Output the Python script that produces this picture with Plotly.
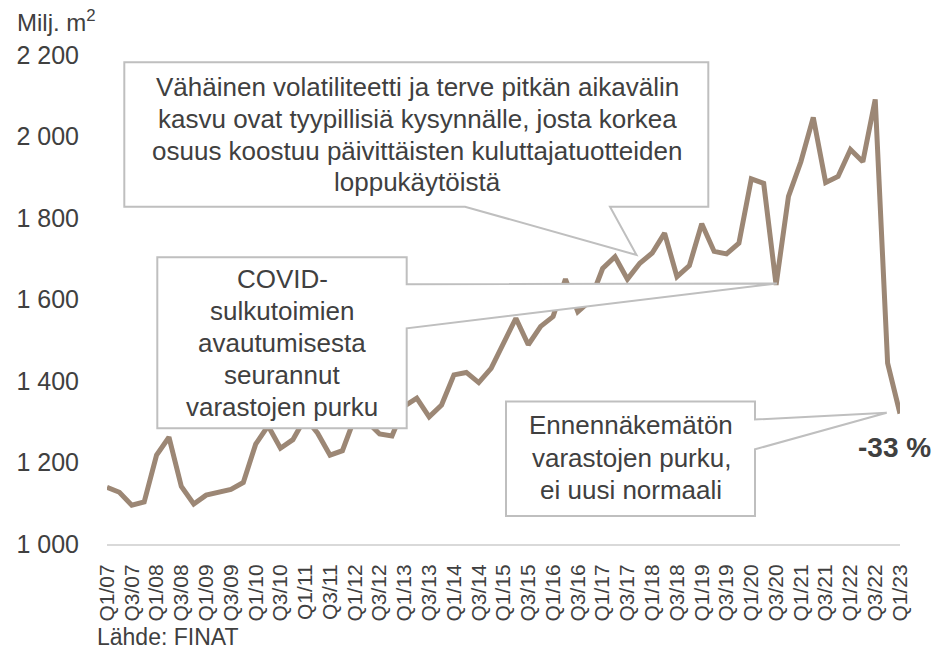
import plotly.graph_objects as go

# ---------------- data ----------------
years = [f"{y:02d}" for y in range(7, 24)]
quarters = [f"Q{q}/{y}" for y in years for q in (1, 2, 3, 4)][:65]

values = [
    1139, 1127, 1095, 1103,   # 2007
    1218, 1262, 1141, 1098,   # 2008
    1120, 1127, 1134, 1151,   # 2009
    1245, 1290, 1235, 1256,   # 2010
    1310, 1272, 1218, 1229,   # 2011
    1310, 1300, 1270, 1265,   # 2012
    1338, 1358, 1312, 1341,   # 2013
    1415, 1421, 1396, 1431,   # 2014
    1492, 1554, 1489, 1534,   # 2015
    1558, 1650, 1570, 1597,   # 2016
    1676, 1705, 1650, 1689,   # 2017
    1714, 1763, 1656, 1683,   # 2018
    1786, 1718, 1712, 1738,   # 2019
    1896, 1885, 1636, 1853,   # 2020
    1938, 2047, 1887, 1902,   # 2021
    1968, 1938, 2091, 1444,   # 2022
    1320,                     # 2023
]

y_tickvals = [1000, 1200, 1400, 1600, 1800, 2000, 2200]
y_ticktext = ["1 000", "1 200", "1 400", "1 600", "1 800", "2 000", "2 200"]
x_tickvals = quarters[::2]

callout1_lines = [
    "Vähäinen volatiliteetti ja terve pitkän aikavälin",
    "kasvu ovat tyypillisiä kysynnälle, josta korkea",
    "osuus koostuu päivittäisten kuluttajatuotteiden",
    "loppukäytöistä",
]
callout2_lines = ["COVID-", "sulkutoimien", "avautumisesta", "seurannut", "varastojen purku"]
callout3_lines = ["Ennennäkemätön", "varastojen purku,", "ei uusi normaali"]
change_label = "-33 %"
unit_label = "Milj. m<sup>2</sup>"
source_label = "Lähde: FINAT"

# ---------------- layout helpers ----------------
W, H = 938, 649
L, R, T, B = 107, 900, 55, 544
FONT = "Liberation Sans, Arial, sans-serif"
TXT = "#404040"
LINE = "#9C8775"
BOX = "#BFBFBF"


def px(x):
    return (x - L) / (R - L)


def py(y):
    return (B - y) / (B - T)


def path(points):
    s = "M " + " L ".join(f"{px(a):.5f},{py(b):.5f}" for a, b in points) + " Z"
    return s


fig = go.Figure()
fig.add_trace(go.Scatter(
    x=quarters, y=values, mode="lines",
    line=dict(color=LINE, width=5),
    hoverinfo="skip", showlegend=False,
))

shapes = []
callout1 = [(124.3, 62.3), (708.3, 62.3), (708.3, 206.7), (610, 206.7), (636.5, 255),
            (465, 206.7), (124.3, 206.7)]
callout2 = [(157.3, 257.3), (406.7, 257.3), (406.7, 284.3), (777, 283.5), (406.7, 328.3),
            (406.7, 428.3), (157.3, 428.3)]
callout3 = [(506, 401.5), (755, 401.5), (755, 419.5), (886.7, 412.7), (755, 449.3),
            (755, 516), (506, 516)]
for poly in (callout1, callout2, callout3):
    shapes.append(dict(type="path", path=path(poly), xref="paper", yref="paper",
                       fillcolor="white", line=dict(color=BOX, width=2), layer="above"))

annotations = []


def add_lines(lines, cx, first_center, spacing, size=26):
    for i, t in enumerate(lines):
        annotations.append(dict(
            x=px(cx), y=py(first_center + i * spacing), xref="paper", yref="paper",
            text=t, showarrow=False, xanchor="center", yanchor="middle",
            font=dict(family=FONT, size=size, color=TXT),
        ))


add_lines(callout1_lines, 417, 87, 31.8)
add_lines(callout2_lines, 282, 278.5, 32.1)
add_lines(callout3_lines, 631, 425, 32.5)

annotations.append(dict(x=px(894), y=py(447), xref="paper", yref="paper",
                        text=f"<b>{change_label}</b>", showarrow=False,
                        xanchor="center", yanchor="middle",
                        font=dict(family=FONT, size=28, color=TXT)))
annotations.append(dict(x=px(15), y=py(21), xref="paper", yref="paper",
                        text=unit_label, showarrow=False,
                        xanchor="left", yanchor="middle",
                        font=dict(family=FONT, size=24, color=TXT)))
annotations.append(dict(x=px(95), y=py(637), xref="paper", yref="paper",
                        text=source_label, showarrow=False,
                        xanchor="left", yanchor="middle",
                        font=dict(family=FONT, size=23, color=TXT)))

fig.update_layout(
    width=W, height=H,
    margin=dict(l=L, r=W - R, t=T, b=H - B, autoexpand=False),
    plot_bgcolor="white", paper_bgcolor="white",
    shapes=shapes, annotations=annotations,
    xaxis=dict(
        type="category", range=[0, len(quarters) - 1],
        tickmode="array", tickvals=x_tickvals, ticktext=x_tickvals,
        tickangle=-90, showgrid=False, zeroline=False,
        showline=True, linecolor="#D9D9D9", linewidth=2,
        ticks="outside", ticklen=10, tickcolor="rgba(0,0,0,0)",
        tickfont=dict(family=FONT, size=21, color=TXT),
    ),
    yaxis=dict(
        range=[1000, 2200], tickmode="array", tickvals=y_tickvals, ticktext=y_ticktext,
        showgrid=False, zeroline=False, showline=False,
        ticks="outside", ticklen=22, tickcolor="rgba(0,0,0,0)",
        tickfont=dict(family=FONT, size=25, color=TXT),
    ),
)

fig.write_html(
    "out.html",
    config={"displayModeBar": False},
    post_script="document.body.style.margin='0';document.body.style.padding='0';",
)
